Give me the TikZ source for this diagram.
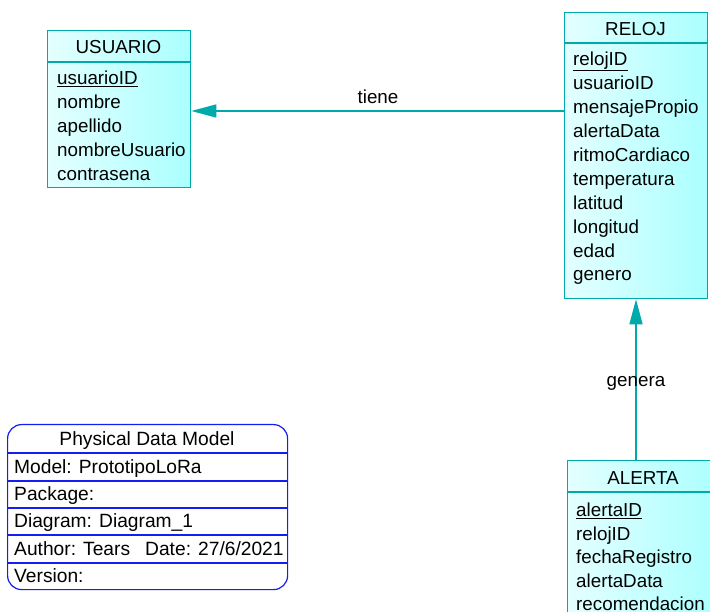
\documentclass[tikz,border=0pt]{standalone}
\usepackage{fontspec}
\setmainfont{Liberation Sans}
\usetikzlibrary{arrows.meta}
\definecolor{erline}{RGB}{0,170,170}
\definecolor{erlight}{RGB}{228,255,255}
\definecolor{erdark}{RGB}{170,255,255}
\definecolor{pdmblue}{RGB}{20,30,240}
\tikzset{
  txt/.style={inner sep=0pt, text height=13.5pt, text depth=4pt, yshift=-2.5pt},
  entbox/.style={draw=erline, line width=1.3pt, left color=erlight, right color=erdark, inner sep=0pt, anchor=north west},
  entsep/.style={draw=erline, line width=1.3pt},
  enttitle/.style={txt, font=\fontsize{18.8}{20}\selectfont},
  field/.style={txt, anchor=west, font=\fontsize{18.8}{20}\selectfont},
  rel/.style={draw=erline, line width=1.4pt, -{Triangle[length=25pt,width=13pt]}},
  rellabel/.style={txt, font=\fontsize{18.8}{20}\selectfont},
  pdmbox/.style={draw=pdmblue, line width=1.2pt, rounded corners=14pt},
  pdmsep/.style={draw=pdmblue, line width=1.2pt},
  pdmtext/.style={txt, anchor=west, font=\fontsize{19.2}{21}\selectfont},
}
\begin{document}
\begin{tikzpicture}[x=1pt, y=-1pt]
\clip (0,0) rectangle (710,612);
\fill[white] (0,0) rectangle (710,612);

% USUARIO entity
\node[entbox, minimum width=143pt, minimum height=157pt] (usuario) at (47,30) {};
\draw[entsep] ([yshift=-32pt]usuario.north west) -- ([yshift=-32pt]usuario.north east);
\node[enttitle] (usuarioT) at (118.5,46) {USUARIO};
\node[field] (u0) at (57,77) {\underline{usuarioID}};
\node[field] (u1) at (57,101) {nombre};
\node[field] (u2) at (57,125) {apellido};
\node[field] (u3) at (57,149) {nombreUsuario};
\node[field] (u4) at (57,173) {contrasena};

% RELOJ entity
\node[entbox, minimum width=143pt, minimum height=286pt] (reloj) at (564,12) {};
\draw[entsep] ([yshift=-31pt]reloj.north west) -- ([yshift=-31pt]reloj.north east);
\node[enttitle] (relojT) at (635.5,28) {RELOJ};
\node[field] (r0) at (573,58) {\underline{relojID}};
\node[field] (r1) at (573,82) {usuarioID};
\node[field] (r2) at (573,106) {mensajePropio};
\node[field] (r3) at (573,130) {alertaData};
\node[field] (r4) at (573,154) {ritmoCardiaco};
\node[field] (r5) at (573,178) {temperatura};
\node[field] (r6) at (573,202) {latitud};
\node[field] (r7) at (573,226) {longitud};
\node[field] (r8) at (573,250) {edad};
\node[field] (r9) at (573,273) {genero};

% ALERTA entity
\node[entbox, minimum width=152pt, minimum height=180pt] (alerta) at (567,460) {};
\draw[entsep] ([yshift=-32pt]alerta.north west) -- ([yshift=-32pt]alerta.north east);
\node[enttitle] (alertaT) at (643,477) {ALERTA};
\node[field] (a0) at (576,509) {\underline{alertaID}};
\node[field] (a1) at (576,533) {relojID};
\node[field] (a2) at (576,556) {fechaRegistro};
\node[field] (a3) at (576,580) {alertaData};
\node[field] (a4) at (576,603) {recomendacion};

% relationships
\coordinate (tieneY) at (0,111);
\coordinate (generaX) at (636,0);
\draw[rel] (reloj.west |- tieneY) -- (usuario.east |- tieneY);
\node[rellabel] (tiene) at (378,96) {tiene};
\draw[rel] (alerta.north -| generaX) -- (reloj.south -| generaX);
\node[rellabel] (genera) at (636,379) {genera};

% model information block
\node[pdmbox, minimum width=280pt, minimum height=165pt, anchor=north west, inner sep=0pt] (pdm) at (7,424) {};
\draw[pdmsep] ([yshift=-29pt]pdm.north west) -- ([yshift=-29pt]pdm.north east);
\draw[pdmsep] ([yshift=-57pt]pdm.north west) -- ([yshift=-57pt]pdm.north east);
\draw[pdmsep] ([yshift=-84pt]pdm.north west) -- ([yshift=-84pt]pdm.north east);
\draw[pdmsep] ([yshift=-111pt]pdm.north west) -- ([yshift=-111pt]pdm.north east);
\draw[pdmsep] ([yshift=-139pt]pdm.north west) -- ([yshift=-139pt]pdm.north east);
\node[txt, font=\fontsize{19.2}{21}\selectfont] (pdmT) at (147,438) {Physical Data Model};
\node[pdmtext] (p1) at (14,466) {Model: PrototipoLoRa};
\node[pdmtext] (p2) at (14,493) {Package:};
\node[pdmtext] (p3) at (14,520) {Diagram: Diagram\_1};
\node[pdmtext] (p4) at (14,548) {Author: Tears};
\node[pdmtext] (p4b) at (145,548) {Date: 27/6/2021};
\node[pdmtext] (p5) at (14,575) {Version:};
\end{tikzpicture}
\end{document}
